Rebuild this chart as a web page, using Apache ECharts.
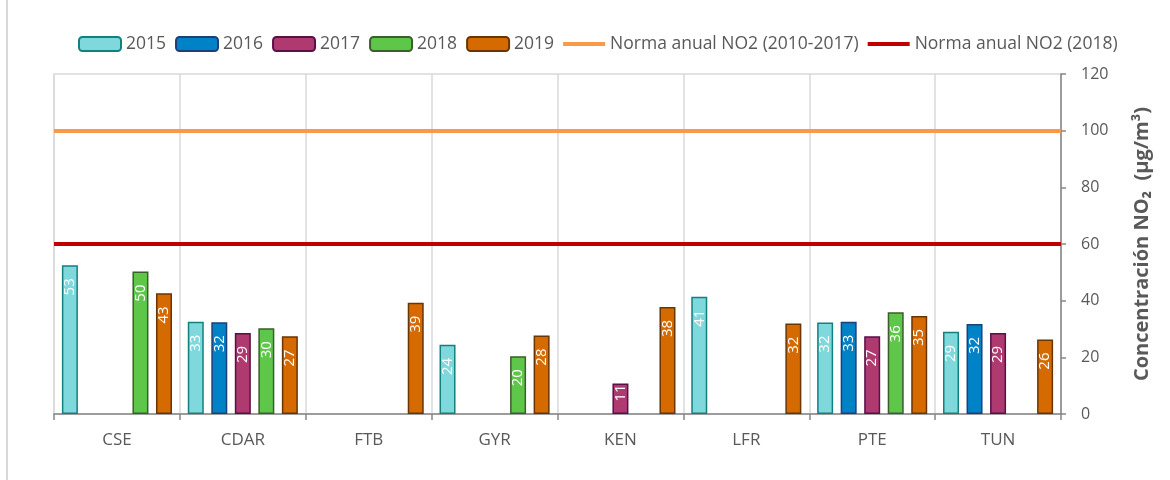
<!DOCTYPE html>
<html>
<head>
<meta charset="utf-8">
<script src="https://cdn.jsdelivr.net/npm/echarts@6/dist/echarts.min.js"></script>
<style>
  body { margin: 0; background: #fff; }
  .wrap { position: relative; width: 1170px; height: 480px; }
  .frame { position: absolute; left: 6px; top: 0; width: 2px; height: 480px; background: #d9d9d9; }
  .box { position: absolute; left: 0; top: 0; width: 1170px; height: 480px; }
</style>
</head>
<body>
<div class="wrap">
  <div class="frame"></div>
  <div class="box"></div>
</div>
<script>
// 数据
var estaciones = ['CSE', 'CDAR', 'FTB', 'GYR', 'KEN', 'LFR', 'PTE', 'TUN'];
var anios = ['2015', '2016', '2017', '2018', '2019'];
var v2015 = [52.5, 32.6, null, 24.4, null, 41.4, 32.3, 29.0];
var v2016 = [null, 32.4, null, null, null, null, 32.6, 31.8];
var v2017 = [null, 28.6, null, null, 10.8, null, 27.4, 28.6];
var v2018 = [50.3, 30.3, null, 20.4, null, null, 35.9, null];
var v2019 = [42.6, 27.4, 39.3, 27.7, 37.8, 31.9, 34.6, 26.3];
var normaNombres = ['Norma anual NO2 (2010-2017)', 'Norma anual NO2 (2018)'];
var normaValores = [100, 60];
var yTicks = [0, 20, 40, 60, 80, 100, 120];

var colores = ['#7fd9dc', '#0082c6', '#ae3a70', '#5ec74a', '#d46a00'];
var bordes = ['#12807f', '#1f3f7a', '#5a0f47', '#3b5e2b', '#6b3500'];
var lineColores = ['#fa9a48', '#c00000'];
var valores = [v2015, v2016, v2017, v2018, v2019];

var fuente = 'Open Sans';
var gris = '#595959';

var mychart = echarts.init(document.querySelector('.box'));

// barras cortas: la etiqueta pegada arriba para que quepa
function datosBarra(arr) {
  return arr.map(function (v) {
    if (v != null && v < 15) {
      return { value: v, label: { distance: 1 } };
    }
    return v;
  });
}

var series = [];
for (var i = 0; i < anios.length; i++) {
  series.push({
    name: anios[i],
    type: 'bar',
    data: datosBarra(valores[i]),
    barWidth: 16,
    barGap: '47%',
    itemStyle: {
      color: colores[i],
      borderColor: bordes[i],
      borderWidth: 1.5
    },
    label: {
      show: true,
      position: 'insideTop',
      distance: 13,
      rotate: 90,
      align: 'right',
      verticalAlign: 'middle',
      color: '#fff',
      fontFamily: fuente,
      fontSize: 15,
      formatter: function (p) { return Math.round(p.value); }
    }
  });
}
// lineas de norma
for (var j = 0; j < normaNombres.length; j++) {
  series.push({
    name: normaNombres[j],
    type: 'line',
    data: [],
    symbol: 'none',
    itemStyle: { color: lineColores[j] },
    lineStyle: { color: lineColores[j], width: 4 },
    markLine: {
      silent: true,
      symbol: 'none',
      label: { show: false },
      lineStyle: { color: lineColores[j], width: 4, type: 'solid' },
      data: [{ yAxis: normaValores[j] }]
    }
  });
}

// leyenda: rectangulos para barras, linea para normas
var legendData = anios.slice();
for (var k = 0; k < normaNombres.length; k++) {
  legendData.push({
    name: normaNombres[k],
    icon: 'path://M0,0H44V4H0Z',
    itemStyle: { color: lineColores[k], borderWidth: 0 }
  });
}

var option = {
  animation: false,
  grid: {
    left: 54,
    right: 109,
    top: 74,
    bottom: 66,
    show: true,
    borderColor: '#d9d9d9',
    borderWidth: 1.5
  },
  legend: {
    top: 30,
    left: 73,
    itemWidth: 42,
    itemHeight: 14,
    itemGap: 9,
    textStyle: { color: gris, fontFamily: fuente, fontSize: 17.5 },
    data: legendData
  },
  xAxis: {
    type: 'category',
    data: estaciones,
    axisLine: { lineStyle: { color: '#868686', width: 1.5 } },
    axisTick: { show: true, length: 6, lineStyle: { color: '#868686', width: 1.5 } },
    axisLabel: { color: gris, fontFamily: fuente, fontSize: 17, margin: 18 },
    splitLine: { show: true, lineStyle: { color: '#d9d9d9', width: 1.5 } }
  },
  yAxis: {
    type: 'value',
    position: 'right',
    min: yTicks[0],
    max: yTicks[yTicks.length - 1],
    interval: 20,
    axisLine: { show: true, lineStyle: { color: '#868686', width: 1.5 } },
    axisTick: { show: true, length: 5, lineStyle: { color: '#868686', width: 1.5 } },
    axisLabel: { color: gris, fontFamily: fuente, fontSize: 16, margin: 20 },
    splitLine: { show: false },
    name: 'Concentración NO₂  (µg/m³)',
    nameLocation: 'middle',
    nameRotate: 90,
    nameGap: 71,
    nameTextStyle: { color: gris, fontFamily: fuente, fontSize: 20, fontWeight: 'bold' }
  },
  series: series
};
mychart.setOption(option);
window.addEventListener('resize', function () {
  mychart.resize();
});
</script>
</body>
</html>
